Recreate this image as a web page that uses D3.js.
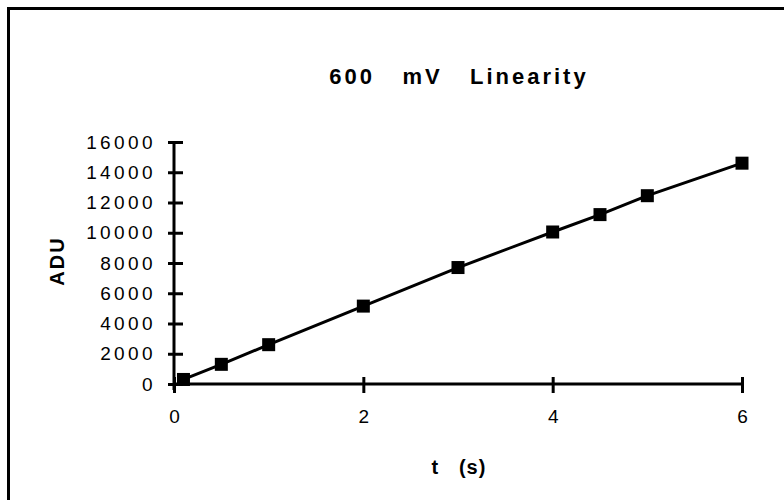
<!DOCTYPE html>
<html>
<head>
<meta charset="utf-8">
<script src="https://cdn.jsdelivr.net/npm/d3@7"></script>
<style>
  html, body { margin: 0; padding: 0; background: #fff; }
  svg { display: block; }
  text { font-family: "Liberation Sans", Arial, sans-serif; fill: #000; }
</style>
</head>
<body>
<svg id="chart" width="784" height="500"></svg>
<script>
// Measured exposure time (s) and mean signal (ADU) at 600 mV bias
const times = [0.1, 0.5, 1, 2, 3, 4, 4.5, 5, 6];
const adu = [300, 1300, 2600, 5150, 7700, 10050, 11200, 12450, 14600];
const xTicks = [0, 2, 4, 6];
const yTicks = [0, 2000, 4000, 6000, 8000, 10000, 12000, 14000, 16000];

const title = "600   mV   Linearity";
const xTitle = "t   (s)";
const yTitle = "ADU";

const svg = d3.select("#chart");

// outer frame (runs off the right and bottom edges)
svg.append("rect")
  .attr("x", 8.5).attr("y", 8.5)
  .attr("width", 800).attr("height", 520)
  .attr("fill", "#fff")
  .attr("stroke", "#000").attr("stroke-width", 3);

const x = d3.scaleLinear().domain([0, 6]).range([174, 742]);
const y = d3.scaleLinear().domain([0, 16000]).range([384, 142]);

// y axis
const gy = svg.append("g")
  .attr("transform", `translate(${x(0)},0)`)
  .call(d3.axisLeft(y).tickValues(yTicks).tickFormat(d3.format("d")).tickSize(6).tickPadding(12));
gy.select(".domain").attr("stroke", "#000").attr("stroke-width", 3)
  .attr("d", `M0,${y(16000)}V${y(0) + 6}`);
gy.selectAll(".tick line").attr("x1", -6).attr("x2", 9).attr("stroke-width", 3);
gy.selectAll(".tick text")
  .attr("font-size", 19).attr("letter-spacing", "3.4px")
  .attr("font-family", "Liberation Sans, Arial, sans-serif");

// x axis
const gx = svg.append("g")
  .attr("transform", `translate(0,${y(0)})`)
  .call(d3.axisBottom(x).tickValues(xTicks).tickFormat(d3.format("d")).tickSize(9).tickPadding(17));
gx.select(".domain").attr("stroke", "#000").attr("stroke-width", 3)
  .attr("d", `M${x(0)},0H${x(6)}`);
gx.selectAll(".tick line").attr("y1", -7).attr("y2", 9).attr("stroke-width", 3);
gx.selectAll(".tick text")
  .attr("font-size", 19)
  .attr("font-family", "Liberation Sans, Arial, sans-serif");

// data line
const pts = times.map((t, i) => [t, adu[i]]);
svg.append("path")
  .datum(pts)
  .attr("fill", "none").attr("stroke", "#000").attr("stroke-width", 3)
  .attr("d", d3.line().x(d => x(d[0])).y(d => y(d[1])));

// square markers
const ms = 13;
svg.selectAll("rect.pt")
  .data(pts)
  .join("rect")
  .attr("class", "pt")
  .attr("x", d => x(d[0]) - ms / 2)
  .attr("y", d => y(d[1]) - ms / 2)
  .attr("width", ms).attr("height", ms)
  .attr("fill", "#000");

// titles
svg.append("text")
  .attr("x", 459).attr("y", 84)
  .attr("text-anchor", "middle")
  .attr("font-size", 22).attr("font-weight", "bold")
  .attr("letter-spacing", "3px")
  .style("white-space", "pre")
  .text(title);

svg.append("text")
  .attr("x", 459).attr("y", 474)
  .attr("text-anchor", "middle")
  .attr("font-size", 20).attr("font-weight", "bold")
  .attr("letter-spacing", "1px")
  .style("white-space", "pre")
  .text(xTitle);

svg.append("text")
  .attr("transform", "translate(64,261) rotate(-90)")
  .attr("text-anchor", "middle")
  .attr("font-size", 20).attr("font-weight", "bold")
  .attr("letter-spacing", "2px")
  .text(yTitle);
</script>
</body>
</html>
